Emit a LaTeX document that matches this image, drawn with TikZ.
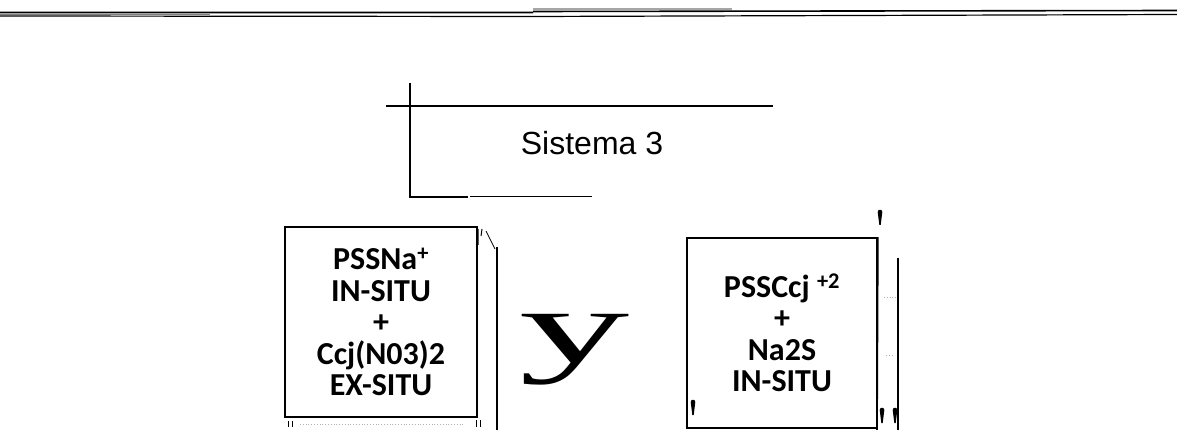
\documentclass[tikz,border=0pt]{standalone}
\usepackage{fontspec}
\setmainfont{Liberation Serif}
\newfontfamily\arialfont{Liberation Sans}
\newfontfamily\boxfont{Carlito}
\usetikzlibrary{calc}

\tikzset{
  panel/.style={draw, line width=1.7pt, inner sep=0pt, align=center,
    minimum width=#1, minimum height=190pt,
    font=\boxfont\bfseries\fontsize{32}{31.5}\selectfont},
  edge/.style={line width=1.8pt},
  tick/.style={fill=black}
}
\newcommand{\droplet}[2]{%
  \fill (#1,#2) circle (2.3) (#1-2.3,#2) -- (#1+2.3,#2) -- (#1+0.7,#2+13) -- (#1-0.7,#2+13) -- cycle;}

\begin{document}
\begin{tikzpicture}[x=1pt, y=-1pt]
  \useasboundingbox (0,0) rectangle (1177,430);
  % scanned header rule
  \draw[line width=1.6pt] (0,12.5) -- (533,12.5) (533,11.5) -- (1177,10.5);
  \draw[line width=1.2pt] (0,16) -- (533,16.5) -- (1177,14.5);
  \fill[gray!70] (533,8.5) rectangle (732,10.5);
  \draw[gray, line width=0.6pt] (0,14.3) -- (210,14.3);

  % title bracket
  \node[font=\arialfont\fontsize{32}{34}\selectfont, anchor=base] (title) at (592,155) {Sistema 3};
  \draw[edge] (410,83) -- (410,197) -- (468,197);
  \draw[edge] (470,196.5) -- (592,196.5);
  \draw[edge] (386,106) -- (773,106);

  % left panel
  \node[panel=192pt] (lbox) at (381,322)
    {PSSNa\textsuperscript{+}\\ IN-SITU\\ +\\ Ccj(N03)2\\ EX-SITU};
  \draw[edge] (497,247) -- (497,430);
  \draw[line width=1pt] (478,229) -- (478,245) (482,229) -- (481,236);
  \draw[line width=0.8pt] (486,231) -- (495,249);
  \draw[line width=1pt] (288,421) -- (288,427) (292,421) -- (292,427);
  \draw[line width=1pt] (476,420) -- (476,427) (480,420) -- (480,427);
  \draw[gray!60, dotted, line width=0.8pt] (300,424) -- (465,424);

  % conjunction
  \node[anchor=base, font=\fontsize{105}{105}\selectfont] (conj) at (575,362) {\scalebox{2.1}[1]{y}};

  % right panel
  \node[panel=190pt] (rbox) at (782,333)
    {PSSCcj \textsuperscript{+2}\\ +\\ Na2S\\ IN-SITU};
  \draw[line width=1.7pt] (rbox.north east) -- (877,430);
  \draw[edge] (898,258) -- (898,430);
  \droplet{880}{212}
  \droplet{693}{402}
  \droplet{882}{410}
  \droplet{895}{410}
  \draw[gray!60, dotted, line width=0.8pt] (884,297) -- (896,297) (886,355) -- (893,355);
\end{tikzpicture}
\end{document}
